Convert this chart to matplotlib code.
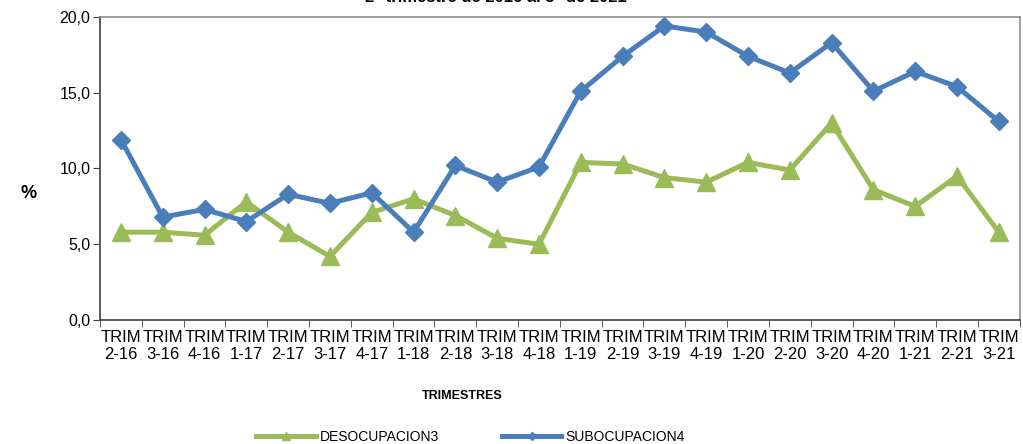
import numpy as np
import matplotlib.pyplot as plt

plt.rcParams['font.family'] = ['Liberation Sans', 'DejaVu Sans']

trimestres = ['2-16', '3-16', '4-16', '1-17', '2-17', '3-17', '4-17', '1-18', '2-18', '3-18', '4-18',
              '1-19', '2-19', '3-19', '4-19', '1-20', '2-20', '3-20', '4-20', '1-21', '2-21', '3-21']
desocupacion = [5.8, 5.8, 5.6, 7.8, 5.8, 4.2, 7.1, 8.0, 6.9, 5.4, 5.0,
                10.4, 10.3, 9.4, 9.1, 10.4, 9.9, 13.0, 8.6, 7.5, 9.5, 5.8]
subocupacion = [11.9, 6.8, 7.3, 6.5, 8.3, 7.7, 8.4, 5.8, 10.2, 9.1, 10.1,
                15.1, 17.4, 19.4, 19.0, 17.4, 16.3, 18.3, 15.1, 16.4, 15.4, 13.1]

VERDE = '#9BBB59'
AZUL = '#4A7EBB'

def main():
    fig = plt.figure(figsize=(10.23, 4.44), dpi=100)
    ax = fig.add_axes([0.0978, 0.279, 0.899, 0.683])
    x = np.arange(len(trimestres))

    ax.plot(x, desocupacion, color=VERDE, lw=3.6, marker='^', ms=13,
            label='DESOCUPACION3', zorder=3)
    ax.plot(x, subocupacion, color=AZUL, lw=3.6, marker='D', ms=9,
            label='SUBOCUPACION4', zorder=4)

    ax.set_xlim(-0.5, len(trimestres) - 0.5)
    ax.set_ylim(0, 20)
    ax.set_yticks(np.arange(0, 20.1, 5))
    ax.set_yticklabels([f'{v:.1f}'.replace('.', ',') for v in np.arange(0, 20.1, 5)], fontsize=11.5)
    ax.set_xticks(x)
    ax.set_xticklabels(['TRIM\n' + t for t in trimestres], fontsize=12, linespacing=1.2)
    ax.set_xticks(np.arange(-0.5, len(trimestres)), minor=True)
    ax.tick_params(axis='x', which='major', length=0, pad=7)
    ax.tick_params(axis='x', which='minor', length=5, direction='out', color='#404040')
    ax.tick_params(axis='y', length=5, direction='out', color='#404040', pad=2)

    for s in ['top', 'right']:
        ax.spines[s].set_color('#909090')
        ax.spines[s].set_linewidth(1.2)
    for s in ['left', 'bottom']:
        ax.spines[s].set_color('#404040')
        ax.spines[s].set_linewidth(1.2)

    fig.text(0.02, 1 - 193 / 444, '%', fontsize=13, fontweight='bold', ha='left', va='center')
    fig.text(0.452, 1 - 396 / 444, 'TRIMESTRES', fontsize=9, fontweight='bold', ha='center', va='center')
    fig.text(0.485, 1 - 2 / 444, '2° trimestre de 2016 al 3° de 2021', fontsize=12,
             fontweight='bold', ha='center', va='baseline')

    fig.legend(loc='center', bbox_to_anchor=(0.46, 1 - 437 / 444), ncol=2, frameon=False,
               fontsize=10, handlelength=4.3, columnspacing=4.5, markerscale=0.45, handletextpad=0.3)

    fig.savefig('out.png', dpi=100)

if __name__ == '__main__':
    main()
